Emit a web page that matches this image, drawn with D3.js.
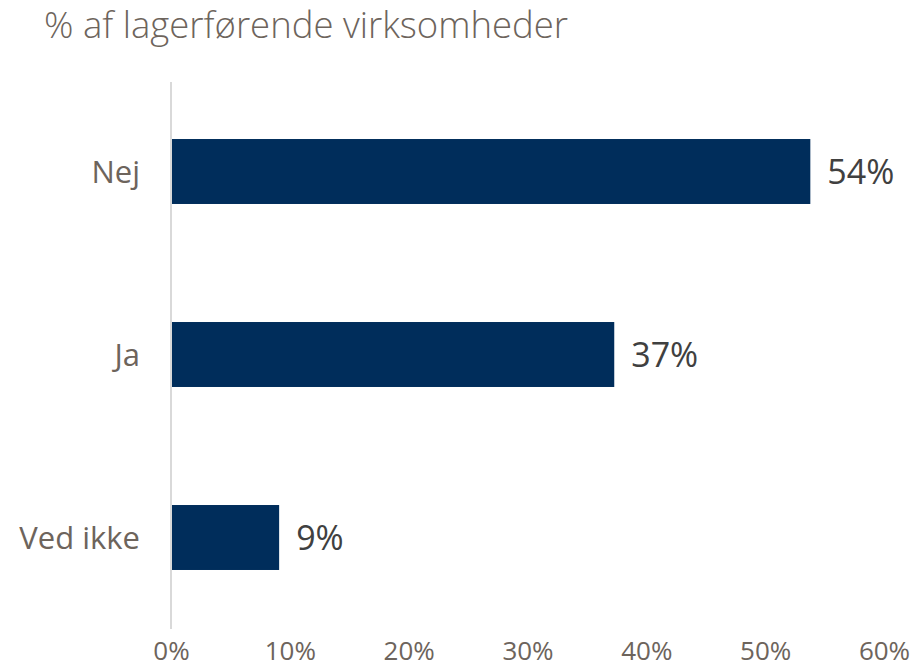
<!DOCTYPE html>
<html lang="da">
<head>
<meta charset="utf-8">
<title>Lagerførende virksomheder</title>
<script src="https://cdn.jsdelivr.net/npm/d3@7"></script>
<style>
  body { margin: 0; background: #fff; }
  text { font-family: "Open Sans", "DejaVu Sans", sans-serif; }
</style>
</head>
<body>
<div id="chart"></div>
<script>
// data
var categories = ["Nej", "Ja", "Ved ikke"];
var values = [53.8, 37.3, 9.1];
var valueLabels = ["54%", "37%", "9%"];
var tickValues = [0, 10, 20, 30, 40, 50, 60];
var title = "% af lagerførende virksomheder";

var width = 916, height = 672;
var labelColor = "#6d645c", barColor = "#002d5b";

var svg = d3.select("#chart").append("svg")
    .attr("width", width)
    .attr("height", height);

var x = d3.scaleLinear().domain([0, 60]).range([171, 884]);
var y = d3.scaleBand().domain(categories).range([80, 629])
    .paddingInner(0.645).paddingOuter(0.3225);

// title
svg.append("text")
    .attr("x", 44).attr("y", 38)
    .attr("fill", labelColor)
    .style("font-size", "36.5px")
    .style("font-weight", 300)
    .text(title);

// vertical axis line
svg.append("line")
    .attr("x1", x(0)).attr("x2", x(0))
    .attr("y1", 82).attr("y2", 629)
    .attr("stroke", "#d9d9d9").attr("stroke-width", 2);

// bars
svg.selectAll("rect.bar")
    .data(values)
    .enter().append("rect")
    .attr("class", "bar")
    .attr("x", x(0) + 1)
    .attr("y", function(d, i) { return y(categories[i]); })
    .attr("width", function(d) { return x(d) - x(0) - 1; })
    .attr("height", y.bandwidth())
    .attr("fill", barColor);

// value labels
svg.selectAll("text.val")
    .data(values)
    .enter().append("text")
    .attr("class", "val")
    .attr("x", function(d) { return x(d) + 17; })
    .attr("y", function(d, i) { return y(categories[i]) + y.bandwidth() / 2; })
    .attr("dy", "0.36em")
    .attr("fill", "#404040")
    .style("font-size", "34px")
    .text(function(d, i) { return valueLabels[i]; });

// category labels
svg.selectAll("text.cat")
    .data(categories)
    .enter().append("text")
    .attr("class", "cat")
    .attr("x", 140)
    .attr("y", function(d) { return y(d) + y.bandwidth() / 2; })
    .attr("dy", "0.36em")
    .attr("text-anchor", "end")
    .attr("fill", labelColor)
    .style("font-size", "31px")
    .text(function(d) { return d; });

// x axis tick labels
var xAxis = d3.axisBottom(x)
    .tickValues(tickValues)
    .tickSize(0)
    .tickPadding(0)
    .tickFormat(function(d) { return d + "%"; });

var gx = svg.append("g")
    .attr("transform", "translate(0,642)")
    .call(xAxis);
gx.select(".domain").remove();
gx.selectAll("text")
    .attr("fill", labelColor)
    .style("font-family", "'Open Sans', sans-serif")
    .style("font-size", "26px");
</script>
</body>
</html>
